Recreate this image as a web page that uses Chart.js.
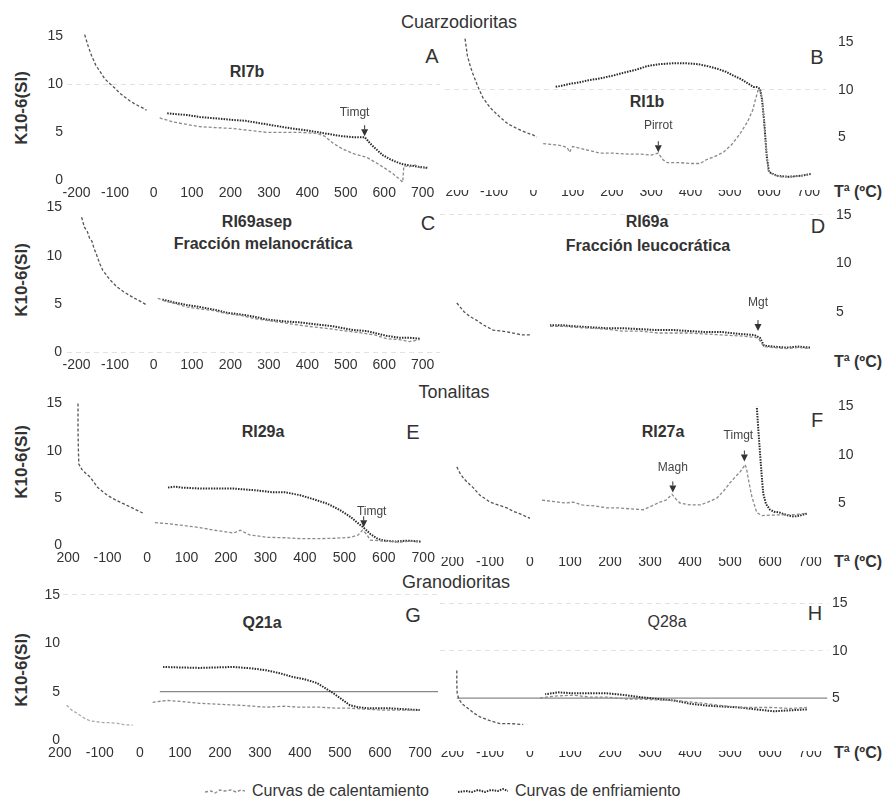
<!DOCTYPE html>
<html>
<head>
<meta charset="utf-8">
<script src="https://cdn.jsdelivr.net/npm/chart.js@4.4.0/dist/chart.umd.min.js"></script>
<style>
body{margin:0;background:#fff;}
#fig{position:relative;width:885px;height:801px;overflow:hidden;font-family:'Liberation Sans',Arial,sans-serif;color:#333;}
#fig canvas{position:absolute;}
.t{position:absolute;transform:translate(-50%,-50%);white-space:nowrap;}
.hd{font-size:18px;}
.sm{font-size:16px;font-weight:bold;}
.lt{font-size:20px;}
.ta{font-size:16px;font-weight:bold;}
.yl{font-size:17px;font-weight:bold;transform:translate(-50%,-50%) rotate(-90deg);}
.lg{position:absolute;font-size:16px;transform:translateY(-50%);white-space:nowrap;}
</style>
</head>
<body>
<div id="fig">
  <div class="t hd" style="left:459px;top:22px">Cuarzodioritas</div>
  <div class="t hd" style="left:454px;top:392px">Tonalitas</div>
  <div class="t hd" style="left:456px;top:582px">Granodioritas</div>

  <div class="t sm" style="left:247px;top:72px">RI7b</div>
  <div class="t sm" style="left:647px;top:102px">RI1b</div>
  <div class="t sm" style="left:257px;top:222px">RI69asep</div>
  <div class="t sm" style="left:263px;top:244px">Fracción melanocrática</div>
  <div class="t sm" style="left:647px;top:222px">RI69a</div>
  <div class="t sm" style="left:648px;top:246px">Fracción leucocrática</div>
  <div class="t sm" style="left:263px;top:432px">RI29a</div>
  <div class="t sm" style="left:663px;top:432px">RI27a</div>
  <div class="t sm" style="left:262px;top:623px">Q21a</div>
  <div class="t sm" style="left:667px;top:622px;font-weight:normal">Q28a</div>

  <div class="t lt" style="left:432px;top:56px">A</div>
  <div class="t lt" style="left:817px;top:57px">B</div>
  <div class="t lt" style="left:428px;top:223px">C</div>
  <div class="t lt" style="left:818px;top:226px">D</div>
  <div class="t lt" style="left:413px;top:432px">E</div>
  <div class="t lt" style="left:817px;top:420px">F</div>
  <div class="t lt" style="left:413px;top:615px">G</div>
  <div class="t lt" style="left:815px;top:613px">H</div>

  <div class="t ta" style="left:858px;top:192px">Tª (ºC)</div>
  <div class="t ta" style="left:858px;top:362px">Tª (ºC)</div>
  <div class="t ta" style="left:858px;top:562px">Tª (ºC)</div>
  <div class="t ta" style="left:858px;top:753px">Tª (ºC)</div>

  <div class="t yl" style="left:22px;top:108px">K10-6(SI)</div>
  <div class="t yl" style="left:22px;top:280px">K10-6(SI)</div>
  <div class="t yl" style="left:22px;top:462px">K10-6(SI)</div>
  <div class="t yl" style="left:22px;top:670px">K10-6(SI)</div>

  <svg style="position:absolute;left:205px;top:785px" width="40" height="12">
    <polyline points="0,7 6,6 10,8 15,5 20,6 26,5 31,7 36,5 40,6" fill="none" stroke="#8a8a8a" stroke-width="1.4" stroke-dasharray="3 2"/>
  </svg>
  <div class="lg" style="left:252px;top:791px">Curvas de calentamiento</div>
  <svg style="position:absolute;left:458px;top:785px" width="50" height="12">
    <polyline points="0,7 8,6 14,7 20,5 27,7 33,5 40,6 45,4 50,6" fill="none" stroke="#2a2a2a" stroke-width="2" stroke-dasharray="1.5 1.2"/>
  </svg>
  <div class="lg" style="left:515px;top:791px">Curvas de enfriamiento</div>
</div>

<script>
/* Curvas termomagnéticas K–T — 8 paneles */

const X_MIN = -225, X_MAX = 745, Y_MIN = -0.6, Y_MAX = 16;
const X_TICKS = [-200, -100, 0, 100, 200, 300, 400, 500, 600, 700];
const X_LABELS = ['-200', '-100', '0', '100', '200', '300', '400', '500', '600', '700'];
const X_LABELS_B = ['200', '-100', '0', '100', '200', '300', '400', '500', '600', '700'];
const Y_TICKS_L = [0, 5, 10, 15];
const Y_TICKS_R = [5, 10, 15];

// ── Datos (T ºC, K) ─────────────────────────────────────────────────────────
const A_LOW  = [[-179,15.2],[-170,14.0],[-161,13.0],[-150,12.0],[-140,11.4],[-127,10.6],[-114,10.1],[-100,9.6],[-88,9.1],[-75,8.7],[-62,8.3],[-50,8.0],[-36,7.7],[-25,7.5],[-18,7.3]];
const A_HEAT = [[16,6.5],[50,6.1],[90,5.8],[120,5.6],[160,5.5],[206,5.4],[250,5.2],[294,5.0],[340,5.0],[380,5.0],[424,4.9],[445,4.6],[466,3.9],[490,3.3],[518,2.8],[554,2.4],[580,1.8],[600,1.3],[622,0.7],[640,0.1],[648,-0.2],[651,1.5],[665,1.4],[680,1.6],[695,1.3],[712,1.3]];
const A_COOL = [[712,1.3],[690,1.4],[675,1.5],[658,1.6],[645,1.7],[632,1.9],[615,2.2],[597,2.6],[580,3.2],[562,3.9],[556,4.2],[549,4.5],[520,4.5],[490,4.6],[460,4.8],[430,5.0],[400,5.2],[360,5.4],[330,5.6],[300,5.8],[270,6.0],[240,6.2],[206,6.3],[180,6.4],[150,6.5],[120,6.6],[90,6.8],[60,6.9],[34,7.0]];

const B_LOW  = [[-174,15.4],[-168,13.6],[-160,12.4],[-154,11.7],[-142,10.4],[-129,9.2],[-110,8.1],[-85,7.1],[-65,6.4],[-42,5.9],[-20,5.5],[0,5.2],[9,5.0]];
const B_HEAT = [[25,4.3],[50,4.2],[70,4.1],[86,3.9],[92,3.4],[100,4.0],[140,3.6],[170,3.3],[200,3.3],[240,3.2],[272,3.2],[300,3.1],[318,3.3],[330,2.6],[341,2.3],[370,2.3],[400,2.2],[425,2.2],[440,2.6],[460,2.9],[484,3.4],[505,4.2],[527,5.4],[545,6.6],[558,7.8],[567,9.2],[573,10.1],[578,9.8],[583,8.9],[587,6.5],[591,4.6],[595,2.8],[598,1.5],[611,1.0],[630,0.8],[655,0.8],[680,0.9],[706,1.1]];
const B_COOL = [[706,1.1],[680,0.9],[650,0.8],[620,0.9],[600,1.3],[594,3.0],[588,6.5],[582,9.0],[577,10.1],[568,10.3],[560,10.3],[545,10.7],[530,11.1],[509,11.5],[490,11.9],[470,12.2],[443,12.5],[420,12.7],[390,12.8],[356,12.8],[320,12.7],[290,12.5],[260,12.1],[230,11.8],[203,11.5],[170,11.2],[140,11.0],[119,10.8],[90,10.6],[70,10.4],[55,10.3]];

const C_LOW  = [[-187,14.0],[-180,13.0],[-172,12.5],[-166,11.8],[-160,11.5],[-155,10.8],[-148,10.1],[-140,9.2],[-132,8.5],[-115,7.6],[-96,6.8],[-75,6.2],[-54,5.7],[-35,5.3],[-18,4.9]];
const C_HEAT = [[11,5.6],[30,5.3],[60,5.0],[86,4.7],[120,4.5],[160,4.3],[190,4.0],[230,3.8],[260,3.5],[294,3.3],[330,3.1],[380,2.8],[420,2.6],[466,2.4],[500,2.2],[540,2.0],[575,1.8],[606,1.4],[640,1.3],[665,1.1],[692,1.3]];
const C_COOL = [[692,1.4],[665,1.5],[640,1.5],[606,1.7],[575,2.0],[554,2.2],[520,2.3],[466,2.7],[420,2.9],[380,3.1],[340,3.2],[294,3.4],[260,3.7],[230,3.9],[190,4.1],[160,4.4],[120,4.7],[86,4.9],[50,5.2],[20,5.5]];

const D_LOW  = [[-183,5.9],[-165,5.0],[-150,4.5],[-133,4.1],[-115,3.6],[-92,3.1],[-70,3.0],[-42,2.8],[-20,2.6],[0,2.6]];
const D_HEAT = [[50,3.5],[80,3.5],[110,3.4],[150,3.3],[190,3.2],[230,3.0],[275,3.0],[320,2.8],[360,2.8],[400,2.8],[440,2.7],[480,2.6],[525,2.5],[550,2.4],[570,2.3],[578,1.8],[585,1.4],[608,1.3],[640,1.2],[670,1.3],[700,1.2]];
const D_COOL = [[700,1.3],[670,1.4],[640,1.3],[608,1.4],[585,1.5],[575,2.3],[560,2.6],[525,2.7],[480,2.9],[440,2.9],[400,3.0],[360,3.1],[320,3.1],[275,3.2],[230,3.3],[190,3.3],[150,3.4],[110,3.5],[80,3.6],[50,3.6]];

const E_LOW  = [[-175,15.0],[-175,12.0],[-174,10.0],[-173,8.6],[-165,8.0],[-155,7.6],[-144,7.2],[-125,6.1],[-101,5.3],[-80,4.8],[-60,4.4],[-50,4.2],[-30,3.8],[-10,3.4]];
const E_HEAT = [[20,2.4],[50,2.3],[92,2.1],[130,1.9],[170,1.6],[219,1.3],[236,1.6],[260,1.1],[305,0.85],[350,0.8],[390,0.7],[432,0.7],[480,0.75],[516,0.85],[535,1.1],[546,1.6],[556,1.2],[566,0.55],[600,0.45],[642,0.35],[670,0.45],[693,0.35]];
const E_COOL = [[693,0.4],[660,0.5],[630,0.4],[600,0.5],[584,0.7],[566,1.2],[548,1.9],[530,2.5],[516,3.0],[490,3.7],[457,4.4],[420,4.9],[388,5.3],[350,5.6],[320,5.6],[280,5.8],[219,6.0],[180,6.0],[135,6.0],[90,6.1],[70,6.2],[52,6.1]];

const F_LOW  = [[-183,8.75],[-175,8.1],[-165,7.5],[-150,6.9],[-142,6.6],[-125,5.8],[-110,5.4],[-100,5.1],[-80,4.8],[-58,4.5],[-40,4.1],[-20,3.8],[0,3.4]];
const F_HEAT = [[30,5.3],[50,5.2],[70,5.1],[90,5.0],[108,5.1],[130,4.8],[160,4.7],[192,4.5],[220,4.5],[250,4.4],[283,4.3],[305,4.7],[325,5.1],[340,5.3],[355,5.9],[365,5.4],[375,5.0],[400,4.8],[425,4.8],[445,5.1],[467,5.5],[485,6.3],[500,7.1],[515,7.8],[525,8.2],[538,9.0],[542,8.4],[545,7.7],[550,6.6],[555,5.6],[567,4.0],[580,3.7],[608,3.75],[640,3.8],[665,3.8],[692,3.95]];
const F_COOL = [[692,3.9],[675,3.7],[660,3.6],[645,3.7],[625,4.0],[610,4.1],[600,4.3],[590,4.9],[583,6.0],[579,8.0],[575,10.2],[571,12.5],[567,15.0]];

const G_LOW  = [[-183,3.6],[-170,3.1],[-158,2.8],[-140,2.3],[-125,2.0],[-108,1.9],[-90,1.8],[-75,1.8],[-58,1.75],[-40,1.6],[-18,1.55]];
const G_HEAT = [[32,3.9],[67,4.1],[100,4.0],[150,3.8],[200,3.7],[250,3.6],[317,3.4],[360,3.5],[400,3.4],[450,3.4],[490,3.3],[525,3.3],[560,3.2],[608,3.1],[650,3.1],[700,3.1]];
const G_COOL = [[700,3.1],[660,3.2],[620,3.3],[590,3.3],[567,3.3],[545,3.4],[525,3.6],[505,4.2],[483,4.85],[462,5.4],[442,5.9],[410,6.3],[383,6.5],[350,6.9],[317,7.2],[280,7.4],[233,7.55],[190,7.5],[150,7.45],[100,7.5],[58,7.55]];
const G_REF  = [[50,5],[750,5]];

const H_LOW  = [[-183,7.9],[-183,6.5],[-182,5.5],[-178,4.9],[-170,4.4],[-158,4.0],[-140,3.4],[-125,3.0],[-100,2.6],[-75,2.3],[-50,2.3],[-17,2.2]];
const H_HEAT = [[25,5.0],[60,5.2],[108,5.3],[150,5.1],[192,5.1],[240,4.9],[275,4.9],[320,4.8],[358,4.75],[400,4.6],[442,4.4],[480,4.2],[525,4.0],[565,4.0],[608,4.0],[650,3.9],[692,4.0]];
const H_COOL = [[692,3.8],[650,3.7],[608,3.6],[565,3.8],[525,4.0],[480,4.1],[442,4.2],[400,4.4],[358,4.75],[320,4.9],[275,5.1],[240,5.3],[192,5.5],[150,5.5],[108,5.5],[70,5.6],[38,5.4]];
const H_REF  = [[-183,5],[743,5]];

// Marcas con flecha (T, K)
const A_NOTES = [{x:549, k:4.6, text:'Timgt', dx:-10, dy:-24}];
const B_NOTES = [{x:318, k:3.4, text:'Pirrot', dx:0, dy:-26}];
const D_NOTES = [{x:570, k:3.0, text:'Mgt', dx:0, dy:-28}];
const E_NOTES = [{x:549, k:1.9, text:'Timgt', dx:8, dy:-16}];
const F_NOTES = [{x:357, k:6.1, text:'Magh', dx:0, dy:-25}, {x:536, k:9.3, text:'Timgt', dx:-6, dy:-26}];

// ── Paneles: posición de -200/700 y de 0/15 en píxeles ─────────────────────
const AXW = 40, AXH = 24;
const PANELS = [
  {side:'left',  xm200:77,  x700:423, y0:180, y15:37,  yLab:63,  xLab:193, labels:X_LABELS,   grid:[10],    low:A_LOW, heat:A_HEAT, cool:A_COOL, notes:A_NOTES},
  {side:'right', xm200:455, x700:808, y0:184, y15:42,  yLab:838, xLab:192, labels:X_LABELS,   grid:[0,10],  low:B_LOW, heat:B_HEAT, cool:B_COOL, notes:B_NOTES},
  {side:'left',  xm200:77,  x700:423, y0:352, y15:208, yLab:62,  xLab:365, labels:X_LABELS,   grid:[0],     low:C_LOW, heat:C_HEAT, cool:C_COOL},
  {side:'right', xm200:450, x700:810, y0:360, y15:215, yLab:836, xLab:362, labels:X_LABELS,   grid:[15],    low:D_LOW, heat:D_HEAT, cool:D_COOL, notes:D_NOTES},
  {side:'left',  xm200:68,  x700:423, y0:545, y15:403, yLab:62,  xLab:558, labels:X_LABELS_B, grid:[],      low:E_LOW, heat:E_HEAT, cool:E_COOL, notes:E_NOTES, xMin:-208},
  {side:'right', xm200:450, x700:810, y0:551, y15:407, yLab:838, xLab:562, labels:X_LABELS,   grid:[],      low:F_LOW, heat:F_HEAT, cool:F_COOL, notes:F_NOTES},
  {side:'left',  xm200:60,  x700:420, y0:740, y15:595, yLab:60,  xLab:753, labels:X_LABELS_B, grid:[15],    low:G_LOW, heat:G_HEAT, cool:G_COOL, ref:G_REF, lowColor:'#aaa', xMin:-192},
  {side:'right', xm200:450, x700:810, y0:745, y15:603, yLab:832, xLab:753, labels:X_LABELS,   grid:[10,15], low:H_LOW, heat:H_HEAT, cool:H_COOL, ref:H_REF},
];

const pts = a => a.map(([x, y]) => ({x, y}));

const notesPlugin = {
  id: 'notes',
  afterDatasetsDraw(chart, args, opts){
    const {ctx, scales:{x, y}} = chart;
    (opts.items || []).forEach(n => {
      const px = x.getPixelForValue(n.x), py = y.getPixelForValue(n.k);
      ctx.save();
      ctx.fillStyle = '#333'; ctx.strokeStyle = '#333'; ctx.lineWidth = 1;
      ctx.beginPath(); ctx.moveTo(px-3.5, py-7); ctx.lineTo(px+3.5, py-7); ctx.lineTo(px, py); ctx.closePath(); ctx.fill();
      ctx.beginPath(); ctx.moveTo(px, py-7); ctx.lineTo(px, py-11); ctx.stroke();
      ctx.font = "12px 'Liberation Sans', Arial, sans-serif";
      ctx.textAlign = 'center'; ctx.textBaseline = 'middle'; ctx.fillStyle = '#444';
      ctx.fillText(n.text, px + n.dx, py + n.dy);
      ctx.restore();
    });
  }
};

Chart.defaults.font.family = "'Liberation Sans', Arial, sans-serif";
Chart.defaults.font.size = 14;
Chart.defaults.color = '#333';

function makePanel(p){
  const xMin = p.xMin ?? X_MIN;
  const kx = (p.x700 - p.xm200) / 900, ky = (p.y0 - p.y15) / 15;
  const L = Math.round(p.xm200 + (xMin + 200) * kx);
  const R = Math.round(p.xm200 + (X_MAX + 200) * kx);
  const T = Math.round(p.y0 - Y_MAX * ky);
  const B = Math.round(p.y0 - Y_MIN * ky);
  const yTicks = p.side === 'left' ? Y_TICKS_L : Y_TICKS_R;

  const cv = document.createElement('canvas');
  cv.width = R - L + AXW; cv.height = B - T + AXH;
  cv.style.left = (p.side === 'left' ? L - AXW : L) + 'px';
  cv.style.top = T + 'px';
  document.getElementById('fig').appendChild(cv);

  const sets = [
    {data:pts(p.low),  borderColor:p.lowColor || '#555', borderWidth:1.3, borderDash:[3,2]},
    {data:pts(p.heat), borderColor:'#8a8a8a', borderWidth:1.3, borderDash:[3,2]},
    {data:pts(p.cool), borderColor:'#2a2a2a', borderWidth:2, borderDash:[1.5,1.2]},
  ];
  if(p.ref) sets.push({data:pts(p.ref), borderColor:'#888', borderWidth:1.2});
  sets.forEach(s => { s.pointRadius = 0; s.fill = false; s.tension = 0; });

  new Chart(cv, {
    type:'line',
    data:{datasets:sets},
    plugins:[notesPlugin],
    options:{
      responsive:false, animation:false, events:[],
      layout:{padding:0},
      plugins:{legend:{display:false}, tooltip:{enabled:false}, notes:{items:p.notes || []}},
      scales:{
        x:{type:'linear', min:xMin, max:X_MAX,
           afterBuildTicks:s => { s.ticks = X_TICKS.map(v => ({value:v})); },
           afterFit:s => { s.height = AXH; s.paddingLeft = 0; s.paddingRight = 0; },
           grid:{display:false, drawTicks:false}, border:{display:false},
           ticks:{padding:p.xLab - B - 8.4, maxRotation:0, autoSkip:false,
                  callback:(v, i) => p.labels[i]}},
        y:{type:'linear', position:p.side, min:Y_MIN, max:Y_MAX,
           afterBuildTicks:s => { s.ticks = yTicks.map(v => ({value:v})); },
           afterFit:s => { s.width = AXW; s.paddingTop = 0; s.paddingBottom = 0; },
           grid:{drawTicks:false, lineWidth:1,
                 color:c => (c.tick && p.grid.includes(c.tick.value)) ? '#e2e2e2' : 'rgba(0,0,0,0)'},
           border:{display:false, dash:[5,4]},
           ticks:{padding:p.side === 'left' ? L - p.yLab : p.yLab - R}}
      }
    }
  });
}

PANELS.forEach(makePanel);
</script>
</body>
</html>
